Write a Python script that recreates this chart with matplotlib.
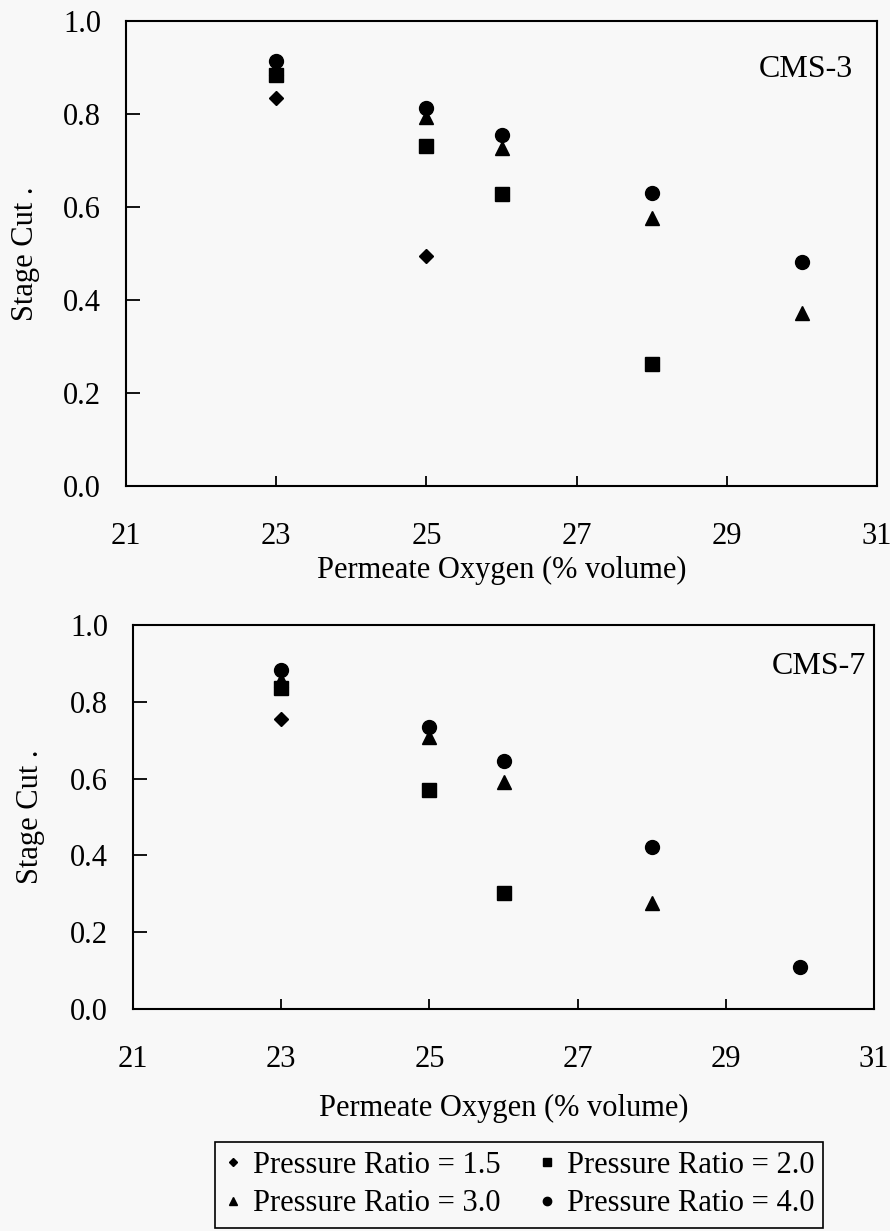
import matplotlib
matplotlib.use("Agg")
import matplotlib.pyplot as plt
from matplotlib.lines import Line2D

plt.rcParams['font.family'] = ['Liberation Serif', 'DejaVu Serif']

# ---------------- data ----------------
series_labels = ["Pressure Ratio = 1.5", "Pressure Ratio = 2.0",
                 "Pressure Ratio = 3.0", "Pressure Ratio = 4.0"]
markers = ["D", "s", "^", "o"]
marker_sizes = [7, 9.5, 10, 10]

# CMS-3 (top panel)
cms3_x_pr15 = [23, 25]
cms3_y_pr15 = [0.834, 0.495]
cms3_x_pr20 = [23, 25, 26, 28]
cms3_y_pr20 = [0.884, 0.731, 0.628, 0.262]
cms3_x_pr30 = [23, 25, 26, 28, 30]
cms3_y_pr30 = [0.898, 0.794, 0.727, 0.576, 0.372]
cms3_x_pr40 = [23, 25, 26, 28, 30]
cms3_y_pr40 = [0.914, 0.813, 0.755, 0.630, 0.482]

# CMS-7 (bottom panel)
cms7_x_pr15 = [23]
cms7_y_pr15 = [0.755]
cms7_x_pr20 = [23, 25, 26]
cms7_y_pr20 = [0.836, 0.570, 0.302]
cms7_x_pr30 = [23, 25, 26, 28]
cms7_y_pr30 = [0.857, 0.708, 0.591, 0.276]
cms7_x_pr40 = [23, 25, 26, 28, 30]
cms7_y_pr40 = [0.883, 0.734, 0.646, 0.422, 0.109]

x_ticks = [21, 23, 25, 27, 29, 31]
y_ticks = [0.0, 0.2, 0.4, 0.6, 0.8, 1.0]
x_label = "Permeate Oxygen (% volume)"
y_label = "Stage Cut ."

bg = "#f8f8f8"
W, H = 890, 1231
FS = 22
fig = plt.figure(figsize=(W / 100, H / 100), dpi=100, facecolor=bg)

def px_axes(left, top, right, bottom):
    return fig.add_axes([left / W, 1 - bottom / H, (right - left) / W, (bottom - top) / H])

def style(ax, name, name_xy, xlab_y, ylab_x):
    ax.set_facecolor(bg)
    ax.set_xlim(21, 31)
    ax.set_ylim(0, 1.0)
    ax.set_xticks(x_ticks)
    ax.set_yticks(y_ticks)
    ax.set_xticklabels([str(t) for t in x_ticks])
    ax.set_yticklabels([f"{t:.1f}" for t in y_ticks])
    for s in ax.spines.values():
        s.set_linewidth(1.5)
        s.set_color("black")
    ax.tick_params(axis="x", direction="in", length=7, width=1.3, pad=26, labelsize=FS)
    ax.tick_params(axis="y", direction="in", length=10, width=1.3, pad=18, labelsize=FS)
    ax.set_xlabel(x_label, fontsize=FS)
    ax.xaxis.set_label_coords(0.5, xlab_y)
    ax.set_ylabel(y_label, fontsize=FS)
    ax.yaxis.set_label_coords(ylab_x, 0.5)
    ax.text(name_xy[0], name_xy[1], name, transform=ax.transAxes, ha="right",
            va="center", fontsize=23)

def plot_panel(ax, xs, ys):
    for x, y, m, ms in zip(xs, ys, markers, marker_sizes):
        ax.plot(x, y, linestyle="none", marker=m, markersize=ms, color="black",
                markeredgecolor="black", clip_on=False)

ax1 = px_axes(126, 21, 877, 486)
plot_panel(ax1, [cms3_x_pr15, cms3_x_pr20, cms3_x_pr30, cms3_x_pr40],
           [cms3_y_pr15, cms3_y_pr20, cms3_y_pr30, cms3_y_pr40])
style(ax1, "CMS-3", (0.968, 0.895), -0.150, -0.115)

ax2 = px_axes(133, 625, 874, 1009)
plot_panel(ax2, [cms7_x_pr15, cms7_x_pr20, cms7_x_pr30, cms7_x_pr40],
           [cms7_y_pr15, cms7_y_pr20, cms7_y_pr30, cms7_y_pr40])
style(ax2, "CMS-7", (0.989, 0.893), -0.222, -0.119)

handles = [Line2D([], [], linestyle="none", marker=m, markersize=s * 0.6,
                  color="black") for m, s in zip(markers, marker_sizes)]
# row-wise order: 1.5, 2.0 / 3.0, 4.0 (legend fills column-wise)
order = [0, 2, 1, 3]
leg = fig.legend([handles[i] for i in order], [series_labels[i] for i in order],
                 ncol=2, loc="upper left",
                 bbox_to_anchor=(215 / W, 1 - 1142 / H), fontsize=FS,
                 frameon=True, fancybox=False, edgecolor="black", facecolor=bg,
                 framealpha=1, handlelength=0.6, handletextpad=0.35,
                 columnspacing=1.2, labelspacing=0.3, borderpad=0.3,
                 borderaxespad=0)
leg.get_frame().set_linewidth(1.2)

fig.savefig("out.png", dpi=100, facecolor=bg)
